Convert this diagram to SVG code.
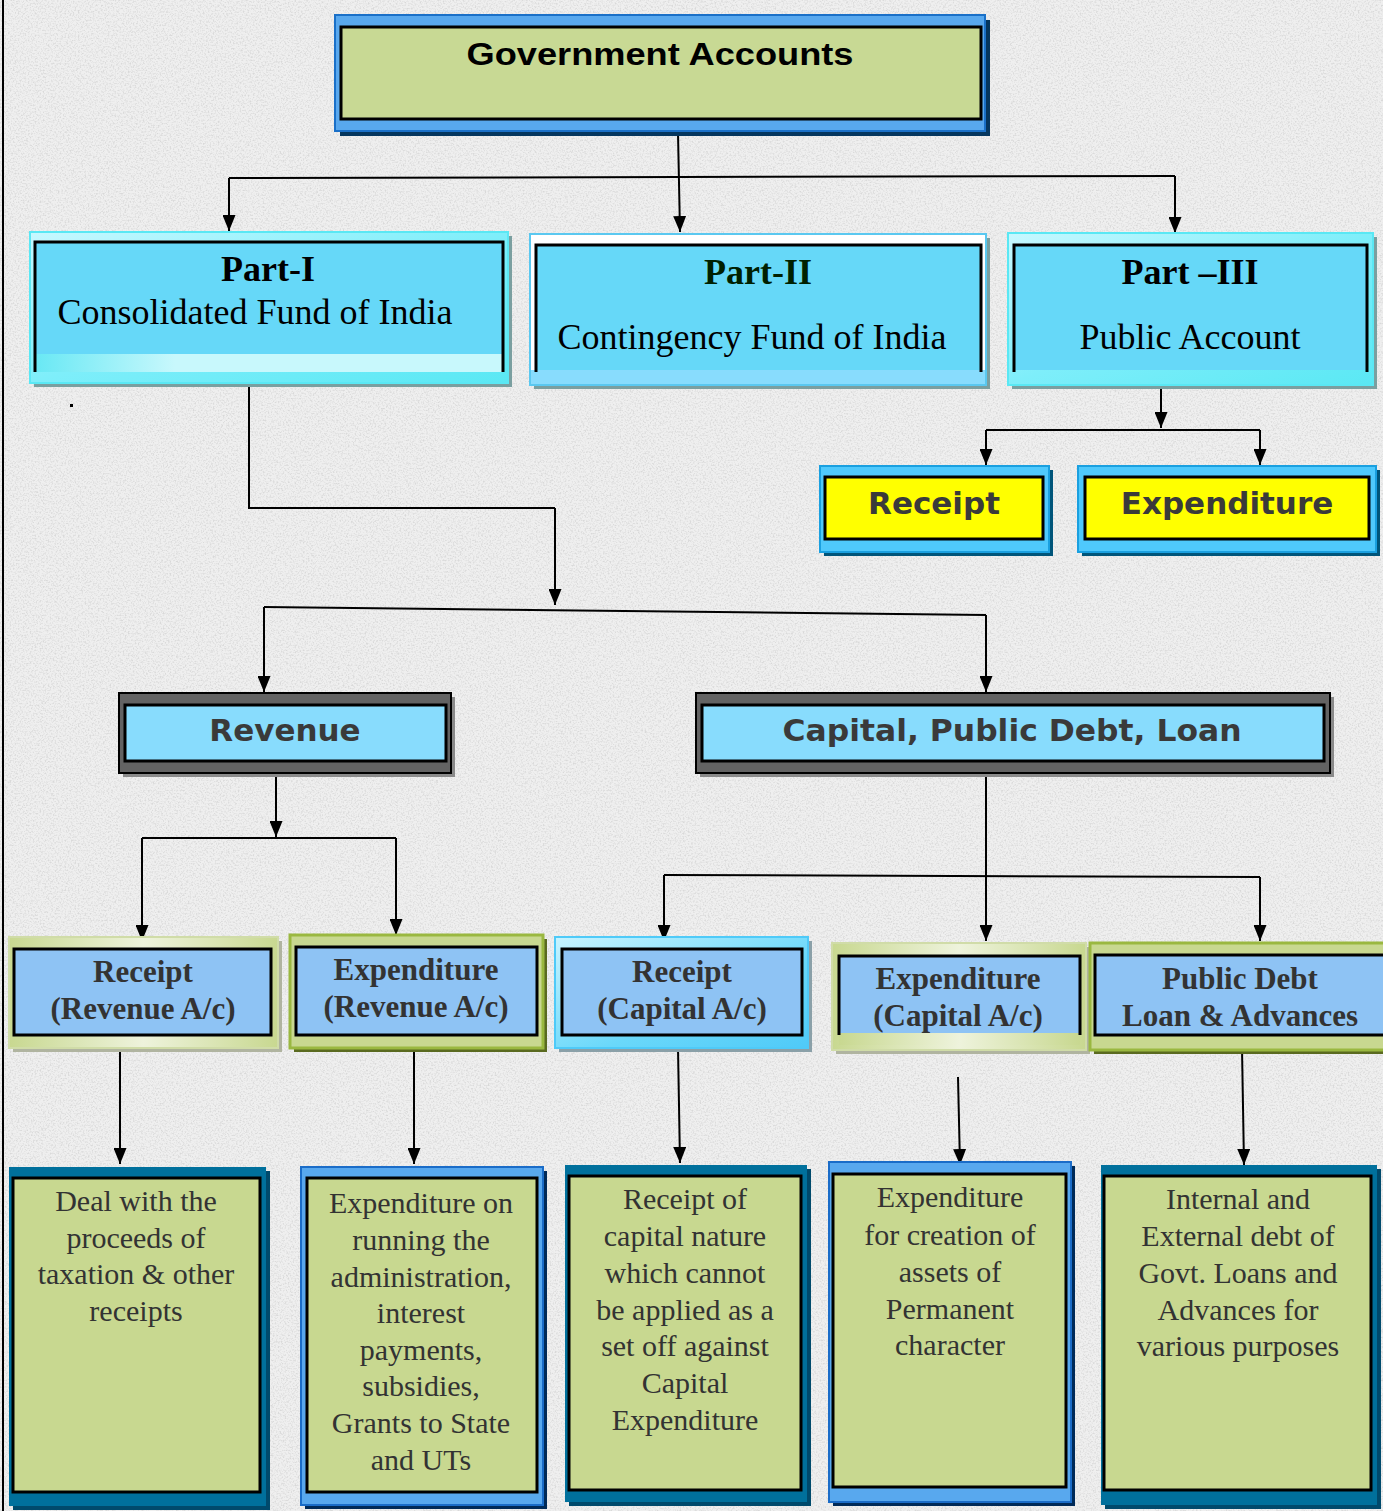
<svg xmlns="http://www.w3.org/2000/svg" width="1383" height="1511" viewBox="0 0 1383 1511">
  <defs>
    <filter id="grain" x="0" y="0" width="100%" height="100%">
      <feTurbulence type="fractalNoise" baseFrequency="0.6" numOctaves="2" seed="7"/>
      <feColorMatrix type="matrix" values="0 0 0 0 0.66  0 0 0 0 0.66  0 0 0 0 0.66  3 0 0 0 -1.35"/>
    </filter>
    <marker id="ah" viewBox="0 0 16 13" refX="16" refY="6.5" markerWidth="16" markerHeight="13" markerUnits="userSpaceOnUse" orient="auto">
      <path d="M0,0 L16,6.5 L0,13 Z" fill="#000"/>
    </marker>
    <linearGradient id="cyanEdge" x1="0" y1="0" x2="1" y2="1">
      <stop offset="0" stop-color="#c8f8ff"/>
      <stop offset="0.5" stop-color="#7eeefa"/>
      <stop offset="1" stop-color="#5ae8f4"/>
    </linearGradient>
    <linearGradient id="cyanEdge2" x1="0" y1="0" x2="1" y2="1">
      <stop offset="0" stop-color="#c8f4ff"/>
      <stop offset="0.6" stop-color="#6ad8fa"/>
      <stop offset="1" stop-color="#4fcaf8"/>
    </linearGradient>
    <linearGradient id="paleGreen" x1="0" y1="0" x2="1" y2="0">
      <stop offset="0" stop-color="#c8d890"/>
      <stop offset="0.5" stop-color="#eef3dc"/>
      <stop offset="1" stop-color="#c8d890"/>
    </linearGradient>
    <linearGradient id="partStrip" x1="0" y1="0" x2="1" y2="0">
      <stop offset="0" stop-color="#68e8f4"/>
      <stop offset="0.3" stop-color="#c8f8fc"/>
      <stop offset="1" stop-color="#c8f8fc"/>
    </linearGradient>
    <style>
      .conn { fill: none; stroke: #000; stroke-width: 2; }
      .arr { marker-end: url(#ah); }
      .ink { fill: none; stroke: #000; stroke-width: 3; }
      .sans { font-family: "DejaVu Sans", Verdana, sans-serif; font-weight: bold; font-size: 31px; fill: #3a3a3a; text-anchor: middle; }
      .head { font-family: "Liberation Sans", Arial, sans-serif; font-weight: bold; font-size: 32px; fill: #000; text-anchor: middle; }
      .partT { font-family: "Liberation Serif", "Times New Roman", serif; font-weight: bold; font-size: 36px; fill: #000; text-anchor: middle; }
      .partS { font-family: "Liberation Serif", "Times New Roman", serif; font-size: 36px; fill: #000; text-anchor: middle; }
      .sub { font-family: "Liberation Serif", "Times New Roman", serif; font-weight: bold; font-size: 31px; fill: #333; text-anchor: middle; }
      .body { font-family: "Liberation Serif", "Times New Roman", serif; font-size: 30px; fill: #333; text-anchor: middle; }
      .shadowTeal { fill: #7a9fa0; }
      .partFill { fill: #66d8f8; }
      .blueFill { fill: #8ec3f4; }
      .greenFill { fill: #c8d890; }
    </style>
  </defs>

  <!-- textured paper background -->
  <rect x="0" y="0" width="1383" height="1511" fill="#efefef"/>
  <rect x="0" y="0" width="1383" height="1511" filter="url(#grain)" opacity="0.8"/>
  <line x1="3" y1="0" x2="3" y2="1511" stroke="#000" stroke-width="2"/>
  <rect x="70" y="404" width="3" height="3" fill="#000"/>

  <!-- connectors -->
  <g id="connectors">
    <path class="conn arr" d="M678,133 L680,232"/>
    <path class="conn" d="M229,178 L1175,176"/>
    <path class="conn arr" d="M229,178 L229,231"/>
    <path class="conn arr" d="M1175,176 L1175,233"/>

    <path class="conn arr" d="M1161,382 L1161,428"/>
    <path class="conn" d="M986,430 L1260,430"/>
    <path class="conn arr" d="M986,430 L986,465"/>
    <path class="conn arr" d="M1260,430 L1260,465"/>

    <path class="conn" d="M249,383 L249,508 L555,508"/>
    <path class="conn arr" d="M555,508 L555,605"/>
    <path class="conn" d="M264,607 L986,615"/>
    <path class="conn arr" d="M264,607 L264,692"/>
    <path class="conn arr" d="M986,615 L986,692"/>

    <path class="conn arr" d="M276,773 L276,837"/>
    <path class="conn" d="M142,838 L396,838"/>
    <path class="conn arr" d="M142,838 L142,941"/>
    <path class="conn arr" d="M396,838 L396,935"/>

    <path class="conn arr" d="M986,773 L986,941"/>
    <path class="conn" d="M664,875 L1260,877"/>
    <path class="conn arr" d="M664,875 L664,941"/>
    <path class="conn arr" d="M1260,877 L1260,941"/>

    <path class="conn arr" d="M120,1048 L120,1164"/>
    <path class="conn arr" d="M414,1048 L414,1164"/>
    <path class="conn arr" d="M678,1048 L680,1163"/>
    <path class="conn arr" d="M958,1077 L960,1165"/>
    <path class="conn arr" d="M1242,1048 L1244,1165"/>
  </g>

  <!-- root -->
  <g id="gov-accounts">
    <rect x="340" y="20" width="650" height="116" fill="#05365e"/>
    <rect x="335" y="15" width="650" height="116" fill="#58a8ee" stroke="#1a70c8" stroke-width="2"/>
    <rect x="341" y="27" width="640" height="92" fill="#c8d994" stroke="#000" stroke-width="3"/>
    <text class="head" x="660" y="65" textLength="387" lengthAdjust="spacingAndGlyphs">Government Accounts</text>
  </g>

  <!-- Part I -->
  <g id="part-1">
    <rect x="34" y="236" width="478" height="151" class="shadowTeal"/>
    <rect x="30" y="232" width="478" height="151" fill="url(#cyanEdge)" stroke="#5ae8f4" stroke-width="2"/>
    <rect x="35" y="242" width="468" height="112" class="partFill"/>
    <rect x="35" y="354" width="468" height="18" fill="url(#partStrip)"/>
    <path class="ink" d="M35,372 L35,242 L503,242 L503,372"/>
    <text class="partT" x="268" y="281">Part-I</text>
    <text class="partS" x="255" y="324">Consolidated Fund of India</text>
  </g>

  <!-- Part II -->
  <g id="part-2">
    <rect x="534" y="238" width="456" height="151" class="shadowTeal"/>
    <rect x="530" y="234" width="456" height="151" fill="#ffffff" stroke="#5ac8f0" stroke-width="2"/>
    <rect x="536" y="245" width="445" height="126" class="partFill"/>
    <rect x="531" y="370" width="454" height="14" fill="#88dcfd"/>
    <path class="ink" d="M536,372 L536,245 L981,245 L981,372"/>
    <text class="partT" x="758" y="284" style="fill:#002000">Part-II</text>
    <text class="partS" x="752" y="349">Contingency Fund of India</text>
  </g>

  <!-- Part III -->
  <g id="part-3">
    <rect x="1012" y="237" width="365" height="152" class="shadowTeal"/>
    <rect x="1008" y="233" width="365" height="152" fill="url(#cyanEdge)" stroke="#5ae8f4" stroke-width="2"/>
    <rect x="1014" y="245" width="353" height="125" class="partFill"/>
    <path class="ink" d="M1014,372 L1014,245 L1367,245 L1367,372"/>
    <text class="partT" x="1190" y="284">Part –III</text>
    <text class="partS" x="1190" y="349">Public Account</text>
  </g>

  <!-- Public Account receipt / expenditure -->
  <g id="pa-receipt">
    <rect x="824" y="470" width="229" height="86" fill="#00557a"/>
    <rect x="820" y="466" width="229" height="86" fill="#4fc9fc" stroke="#1aa0e0" stroke-width="2"/>
    <rect x="825" y="477" width="218" height="62" fill="#ffff00" stroke="#000" stroke-width="3"/>
    <text class="sans" x="934" y="514">Receipt</text>
  </g>
  <g id="pa-expenditure">
    <rect x="1082" y="470" width="298" height="86" fill="#00557a"/>
    <rect x="1078" y="466" width="298" height="86" fill="#4fc9fc" stroke="#1aa0e0" stroke-width="2"/>
    <rect x="1085" y="477" width="284" height="62" fill="#ffff00" stroke="#000" stroke-width="3"/>
    <text class="sans" x="1227" y="514">Expenditure</text>
  </g>

  <!-- Revenue / Capital -->
  <g id="revenue">
    <rect x="123" y="697" width="332" height="80" fill="#8a8a8a"/>
    <rect x="119" y="693" width="332" height="80" fill="#636363" stroke="#000" stroke-width="2"/>
    <rect x="125" y="705" width="321" height="56" fill="#88dcfd" stroke="#000" stroke-width="3"/>
    <text class="sans" x="285" y="741">Revenue</text>
  </g>
  <g id="capital">
    <rect x="700" y="697" width="634" height="80" fill="#8a8a8a"/>
    <rect x="696" y="693" width="634" height="80" fill="#636363" stroke="#000" stroke-width="2"/>
    <rect x="702" y="705" width="622" height="56" fill="#88dcfd" stroke="#000" stroke-width="3"/>
    <text class="sans" x="1012" y="741" textLength="459" lengthAdjust="spacingAndGlyphs">Capital, Public Debt, Loan</text>
  </g>

  <!-- second-level heads -->
  <g id="receipt-revenue">
    <rect x="13" y="941" width="269" height="111" fill="#b0b4a0"/>
    <rect x="9" y="937" width="269" height="111" fill="url(#paleGreen)" stroke="#d0dca8" stroke-width="2"/>
    <rect x="14" y="949" width="257" height="86" class="blueFill" stroke="#000" stroke-width="3"/>
    <text class="sub" x="143" y="982">Receipt</text>
    <text class="sub" x="143" y="1019">(Revenue A/c)</text>
  </g>
  <g id="expenditure-revenue">
    <rect x="294" y="939" width="253" height="113" fill="#5a6a20"/>
    <rect x="290" y="935" width="253" height="113" class="greenFill" stroke="#9ab840" stroke-width="3"/>
    <rect x="296" y="947" width="241" height="88" class="blueFill" stroke="#000" stroke-width="3"/>
    <text class="sub" x="416" y="980">Expenditure</text>
    <text class="sub" x="416" y="1017">(Revenue A/c)</text>
  </g>
  <g id="receipt-capital">
    <rect x="559" y="941" width="253" height="111" fill="#8aa0a8"/>
    <rect x="555" y="937" width="253" height="111" fill="url(#cyanEdge2)" stroke="#4fcaf8" stroke-width="2"/>
    <rect x="562" y="949" width="240" height="86" class="blueFill" stroke="#000" stroke-width="3"/>
    <text class="sub" x="682" y="982">Receipt</text>
    <text class="sub" x="682" y="1019">(Capital A/c)</text>
  </g>
  <g id="expenditure-capital">
    <rect x="836" y="947" width="254" height="107" fill="#b0b4a0"/>
    <rect x="832" y="943" width="254" height="107" fill="url(#paleGreen)" stroke="#d0dca8" stroke-width="2"/>
    <rect x="839" y="956" width="241" height="77" class="blueFill"/>
    <rect x="839" y="1033" width="241" height="12" fill="url(#paleGreen)"/>
    <path class="ink" d="M839,1035 L839,956 L1080,956 L1080,1035"/>
    <text class="sub" x="958" y="989">Expenditure</text>
    <text class="sub" x="958" y="1026">(Capital A/c)</text>
  </g>
  <g id="public-debt">
    <rect x="1094" y="947" width="300" height="107" fill="#5a6a20"/>
    <rect x="1090" y="943" width="300" height="107" class="greenFill" stroke="#9ab840" stroke-width="3"/>
    <rect x="1095" y="955" width="300" height="80" class="blueFill" stroke="#000" stroke-width="3"/>
    <text class="sub" x="1240" y="989">Public Debt</text>
    <text class="sub" x="1240" y="1026">Loan &amp; Advances</text>
  </g>

  <!-- descriptions -->
  <g id="desc-receipt-revenue">
    <rect x="13" y="1171" width="257" height="339" fill="#004a6c"/>
    <rect x="9" y="1167" width="257" height="339" fill="#00709c"/>
    <rect x="13" y="1178" width="247" height="314" class="greenFill" stroke="#000" stroke-width="3"/>
    <text class="body" x="136" y="1211">Deal with the</text>
    <text class="body" x="136" y="1248">proceeds of</text>
    <text class="body" x="136" y="1284">taxation &amp; other</text>
    <text class="body" x="136" y="1321">receipts</text>
  </g>
  <g id="desc-expenditure-revenue">
    <rect x="305" y="1171" width="242" height="338" fill="#002a58"/>
    <rect x="301" y="1167" width="242" height="338" fill="#58a8ee" stroke="#1a6cc8" stroke-width="2"/>
    <rect x="307" y="1178" width="230" height="314" class="greenFill" stroke="#000" stroke-width="3"/>
    <text class="body" x="421" y="1213">Expenditure on</text>
    <text class="body" x="421" y="1250">running the</text>
    <text class="body" x="421" y="1287">administration,</text>
    <text class="body" x="421" y="1323">interest</text>
    <text class="body" x="421" y="1360">payments,</text>
    <text class="body" x="421" y="1396">subsidies,</text>
    <text class="body" x="421" y="1433">Grants to State</text>
    <text class="body" x="421" y="1470">and UTs</text>
  </g>
  <g id="desc-receipt-capital">
    <rect x="569" y="1169" width="242" height="337" fill="#004a6c"/>
    <rect x="565" y="1165" width="242" height="337" fill="#00709c"/>
    <rect x="569" y="1176" width="232" height="314" class="greenFill" stroke="#000" stroke-width="3"/>
    <text class="body" x="685" y="1209">Receipt of</text>
    <text class="body" x="685" y="1246">capital nature</text>
    <text class="body" x="685" y="1283">which cannot</text>
    <text class="body" x="685" y="1320">be applied as a</text>
    <text class="body" x="685" y="1356">set off against</text>
    <text class="body" x="685" y="1393">Capital</text>
    <text class="body" x="685" y="1430">Expenditure</text>
  </g>
  <g id="desc-expenditure-capital">
    <rect x="833" y="1166" width="242" height="340" fill="#002a58"/>
    <rect x="829" y="1162" width="242" height="340" fill="#58a8ee" stroke="#1a6cc8" stroke-width="2"/>
    <rect x="833" y="1174" width="233" height="313" class="greenFill" stroke="#000" stroke-width="3"/>
    <text class="body" x="950" y="1207">Expenditure</text>
    <text class="body" x="950" y="1245">for creation of</text>
    <text class="body" x="950" y="1282">assets of</text>
    <text class="body" x="950" y="1319">Permanent</text>
    <text class="body" x="950" y="1355">character</text>
  </g>
  <g id="desc-public-debt">
    <rect x="1105" y="1169" width="276" height="340" fill="#004a6c"/>
    <rect x="1101" y="1165" width="276" height="340" fill="#00709c"/>
    <rect x="1104" y="1176" width="267" height="314" class="greenFill" stroke="#000" stroke-width="3"/>
    <text class="body" x="1238" y="1209">Internal and</text>
    <text class="body" x="1238" y="1246">External debt of</text>
    <text class="body" x="1238" y="1283">Govt. Loans and</text>
    <text class="body" x="1238" y="1320">Advances for</text>
    <text class="body" x="1238" y="1356">various purposes</text>
  </g>
</svg>
